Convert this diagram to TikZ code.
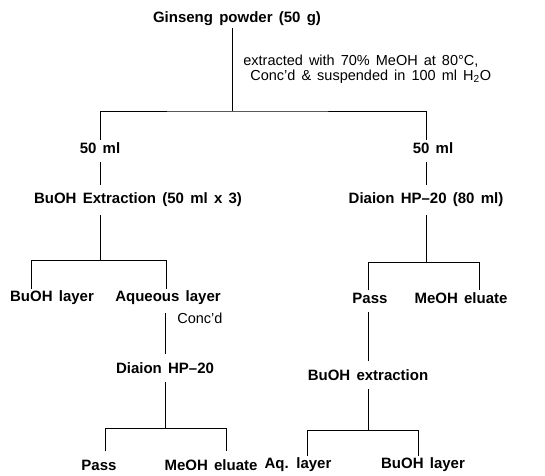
\documentclass[tikz,border=0pt]{standalone}
\usepackage{fontspec}
\setmainfont{Liberation Sans}[WordSpace=1.5]
\usetikzlibrary{positioning}

\begin{document}
\begin{tikzpicture}[x=1pt,y=-1pt,
  lbl/.style={font=\fontsize{15}{18}\selectfont\bfseries, inner sep=2pt},
  note/.style={font=\fontsize{14.5}{15}\selectfont, inner sep=0pt, align=left},
  link/.style={shorten <=6pt, shorten >=6pt},
  every path/.style={line width=0.7pt}]
\useasboundingbox (0,0) rectangle (545,475);
% ----- starting material
\node[lbl] (gin) at (237,19) {Ginseng powder (50 g)};
\node[note, anchor=west] (ext) at (243,69) {extracted with 70\% MeOH at 80\textdegree C,\\\hspace*{7pt}Conc'd \& suspended in 100 ml H\textsubscript{2}O};
\coordinate (s1) at (232,111);
\node[lbl] (ml1) at (100,148) {50 ml};
\node[lbl] (ml2) at (433,148) {50 ml};
\node[lbl] (dia1) at (426,200) {Diaion HP--20 (80 ml)};
\draw (gin.south-|s1) -- (s1);
\draw (ml1.north) |- (s1) -| (ml2.north-|dia1);
% ----- left: BuOH extraction
\node[lbl] (bx1) at (138,200) {BuOH Extraction (50 ml x 3)};
\draw[link] (ml1.south) -- (ml1.south|-bx1.north);
\coordinate (s2l) at (31,260);
\coordinate (s2r) at (166,260);
\node[lbl] (bul1) at (52,298) {BuOH layer};
\node[lbl] (aq1) at (168,298) {Aqueous layer};
\draw[shorten <=6pt] (ml1.south|-bx1.south) -- (ml1|-s2l);
\draw (bul1.north-|s2l) -- (s2l) -- (s2r) -- (aq1.north-|s2r);
\node[note, anchor=west] (conc) at (177,318) {Conc'd};
\node[lbl] (dia2) at (165,368) {Diaion HP--20};
\draw[link] (aq1.south-|dia2) -- (dia2.north);
\coordinate (s4l) at (105,428);
\coordinate (s4r) at (226,428);
\node[lbl] (pass2) at (99,465) {Pass};
\node[lbl] (meo2) at (211,465) {MeOH eluate};
\draw[shorten <=6pt] (dia2.south) -- (dia2|-s4l);
\draw[shorten <=6pt] (pass2.north-|s4l) -- (s4l) -- (s4r) -- ([yshift=6pt]meo2.north-|s4r);
% ----- right: Diaion HP-20
\draw[link] (ml2.south-|dia1) -- (dia1.north);
\coordinate (s3l) at (368,262);
\coordinate (s3r) at (479,262);
\node[lbl] (pass1) at (370,298) {Pass};
\node[lbl] (meo1) at (461,298) {MeOH eluate};
\draw[shorten <=6pt] (dia1.south) -- (dia1|-s3l);
\draw (pass1.north-|s3l) -- (s3l) -- (s3r) -- (meo1.north-|s3r);
\node[lbl] (bex) at (368,375) {BuOH extraction};
\draw[link] (pass1.south-|s3l) -- (bex.north-|s3l);
\coordinate (s5l) at (307,430);
\coordinate (s5r) at (418,430);
\node[lbl] (aq2) at (298,465) {Aq. layer};
\node[lbl] (bul2) at (423,465) {BuOH layer};
\draw[shorten <=6pt] (bex.south-|s3l) -- (s3l|-s5l);
\draw (aq2.north-|s5l) -- (s5l) -- (s5r) -- (bul2.north-|s5r);
\end{tikzpicture}
\end{document}
